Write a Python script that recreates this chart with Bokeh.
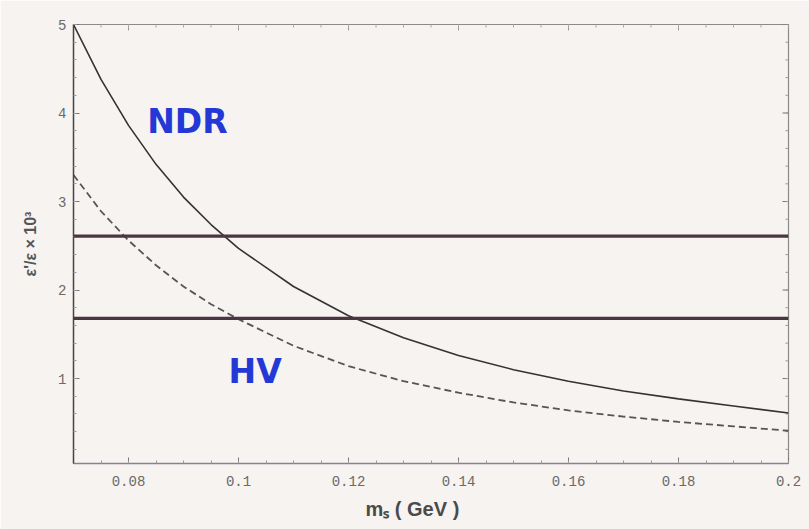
from bokeh.plotting import figure
from bokeh.models import Range1d, Span, Label, FixedTicker, Title
from bokeh.embed import file_html
from bokeh.resources import INLINE
import math

# data
ms = [0.07, 0.075, 0.08, 0.085, 0.09, 0.095, 0.10, 0.11, 0.12, 0.13, 0.14,
      0.15, 0.16, 0.17, 0.18, 0.19, 0.20]
ndr = [5.0, 4.38, 3.86, 3.42, 3.05, 2.74, 2.47, 2.04, 1.71, 1.46, 1.26,
       1.10, 0.97, 0.86, 0.77, 0.69, 0.61]
hv = [3.3, 2.89, 2.56, 2.28, 2.04, 1.84, 1.67, 1.37, 1.14, 0.97, 0.84,
      0.73, 0.64, 0.57, 0.51, 0.46, 0.41]
exp_levels = [2.61, 1.68]
x_ticks = [0.08, 0.1, 0.12, 0.14, 0.16, 0.18, 0.2]
x_tick_labels = ["0.08", "0.1", "0.12", "0.14", "0.16", "0.18", "0.2"]
y_ticks = [1, 2, 3, 4, 5]
x_minor = [round(0.07 + 0.005 * i, 4) for i in range(27)]
y_minor = [round(0.2 * i, 2) for i in range(1, 26)]

BG = "#f6f3f0"
X0, X1, Y0, Y1 = 0.07, 0.2, 0.04, 5.0

p = figure(width=809, height=529, output_backend="svg", toolbar_location=None,
           x_range=Range1d(X0, X1), y_range=Range1d(Y0, Y1),
           min_border_left=73, min_border_right=21, min_border_top=24,
           min_border_bottom=66)
p.background_fill_color = BG
p.border_fill_color = BG
p.outline_line_color = "#8a8a8a"
p.outline_line_width = 1.2
p.grid.visible = False

for ax, col in ((p.xaxis[0], "#8c7f92"), (p.yaxis[0], "#444444")):
    ax.axis_line_color = col
    ax.axis_line_width = 1.4
    ax.major_tick_in = 6
    ax.major_tick_out = 0
    ax.minor_tick_in = 3
    ax.minor_tick_out = 0
    ax.major_tick_line_color = "#777777"
    ax.minor_tick_line_color = "#9a9a9a"
    ax.major_label_text_font = "Liberation Mono"
    ax.major_label_text_font_size = "14px"
    ax.major_label_text_color = "#6a6a6a"

p.xaxis.ticker = FixedTicker(ticks=x_ticks, minor_ticks=x_minor)
p.yaxis.ticker = FixedTicker(ticks=y_ticks, minor_ticks=y_minor)
p.xaxis.major_label_overrides = {t: l for t, l in zip(x_ticks, x_tick_labels)}
p.xaxis.major_label_standoff = 12
p.yaxis.major_label_standoff = 7

p.yaxis.axis_label = "ε'/ε × 10³"
p.yaxis.axis_label_text_font = "Liberation Sans"
p.yaxis.axis_label_text_font_style = "bold"
p.yaxis.axis_label_text_font_size = "16px"
p.yaxis.axis_label_text_color = "#555555"
p.yaxis.axis_label_standoff = 16

# x axis label as a title below the axis, shifted to where the reference has it
p.add_layout(Title(text="mₛ ( GeV )", align="left", offset=292, standoff=14,
                   text_font="Liberation Sans", text_font_style="bold",
                   text_font_size="20px", text_color="#4a4a4a"), "below")

# inward ticks on the top and right frame edges (half of each dash is clipped)
p.scatter(x_ticks, [Y1] * len(x_ticks), marker="dash", size=12,
          angle=math.pi / 2, line_color="#999999")
p.scatter(x_minor, [Y1] * len(x_minor), marker="dash", size=6,
          angle=math.pi / 2, line_color="#aaaaaa")
p.scatter([X1] * len(y_ticks), y_ticks, marker="dash", size=12,
          line_color="#777777")
p.scatter([X1] * len(y_minor), y_minor, marker="dash", size=6,
          line_color="#999999")

for lvl in exp_levels:
    p.add_layout(Span(location=lvl, dimension="width", line_color="#4a3640",
                      line_width=3.2))

p.line(ms, ndr, line_color="#333333", line_width=1.6)
p.line(ms, hv, line_color="#555555", line_width=1.8, line_dash="7 4")

lab = dict(text_color="#2438d6", text_font="DejaVu Sans",
           text_font_style="bold", text_font_size="33px",
           text_baseline="middle", text_align="left")
p.add_layout(Label(x=0.0834, y=3.90, text="NDR", **lab))
p.add_layout(Label(x=0.0982, y=1.08, text="HV", **lab))

html = file_html(p, INLINE)
open("out.html", "w").write(html)
